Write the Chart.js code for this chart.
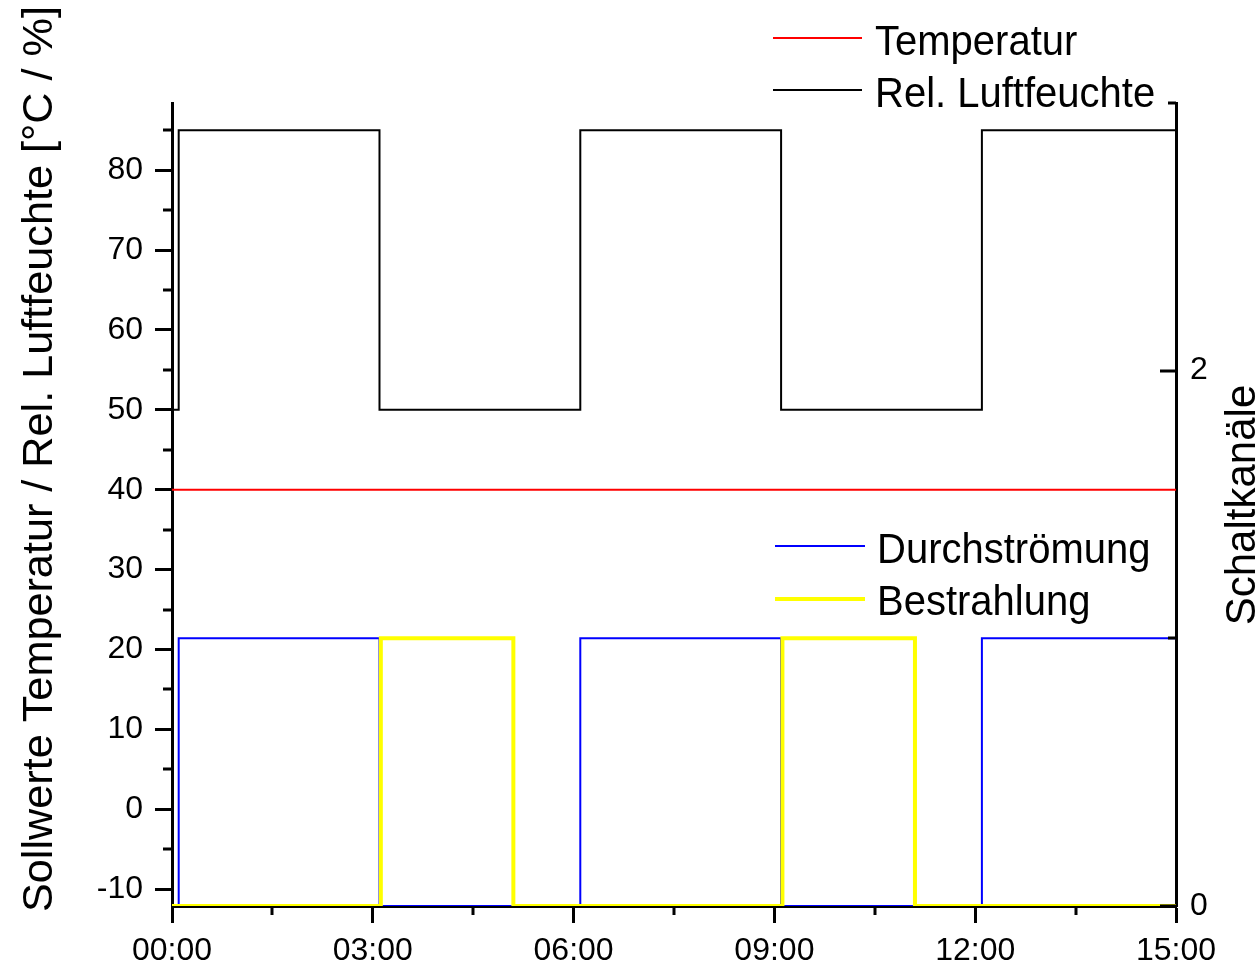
<!DOCTYPE html>
<html>
<head>
<meta charset="utf-8">
<script src="https://cdn.jsdelivr.net/npm/chart.js@4"></script>
<style>
  body { margin: 0; background: #fff; }
  #wrap { width: 1260px; height: 969px; }
</style>
</head>
<body>
<div id="wrap"><canvas id="grafik" width="1260" height="969"></canvas></div>
<script>
// Zeitpunkte (Stunden), an denen sich der Sollwert ändert
const feuchteZeit = [0, 0.1, 3.1, 6.1, 9.1, 12.1, 15];
const feuchteWerte = [50, 85, 50, 85, 50, 85, 85];
const temperaturZeit = [0, 15];
const temperaturWerte = [40, 40];
const durchZeit = [0, 0.1, 3.1, 6.1, 9.1, 12.1, 15];
const durchWerte = [0, 1, 0, 1, 0, 1, 1];
const strahlZeit = [0, 3.12, 5.1, 9.12, 11.1, 15];
const strahlWerte = [0, 1, 0, 1, 0, 0];

const xTicks = [0, 3, 6, 9, 12, 15];
const yTicks = [-10, 0, 10, 20, 30, 40, 50, 60, 70, 80];
const y1Ticks = [0, 2];

const schrift = "'Liberation Sans', Arial, sans-serif";

function punkte(zeit, werte) {
    return zeit.map((x, i) => ({ x: x, y: werte[i] }));
}

function uhrzeit(v) {
    return String(v).padStart(2, "0") + ":00";
}

function schreiben(ctx, s, x, y, groesse, gedreht, laenge) {
    ctx.save();
    ctx.translate(x, y);
    if (gedreht) ctx.rotate(-Math.PI / 2);
    else ctx.scale(1, 1.08);
    ctx.font = groesse + "px " + schrift;
    ctx.fillStyle = "#000";
    if (laenge) {
        let w = ctx.measureText(s).width;
        ctx.scale(laenge / w, 1);
    }
    ctx.textAlign = gedreht ? "center" : "left";
    ctx.textBaseline = "alphabetic";
    ctx.fillText(s, 0, 0);
    ctx.restore();
}

function legendenEintrag(ctx, ds, x1, x2, yLinie, xText, yText) {
    ctx.save();
    ctx.strokeStyle = ds.borderColor;
    ctx.lineWidth = ds.borderWidth;
    ctx.beginPath();
    ctx.moveTo(x1, yLinie);
    ctx.lineTo(x2, yLinie);
    ctx.stroke();
    ctx.restore();
    schreiben(ctx, ds.label, xText, yText, 40, false);
}

const extras = {
    id: "extras",
    afterDraw(chart) {
        const ctx = chart.ctx;
        const { x, y, y1 } = chart.scales;
        const area = chart.chartArea;

        ctx.save();
        ctx.strokeStyle = "#000";
        ctx.lineWidth = 3;
        ctx.beginPath();
        // Zwischenstriche links
        for (let v = -5; v <= 85; v += 10) {
            let py = Math.round(y.getPixelForValue(v));
            ctx.moveTo(area.left - 9, py);
            ctx.lineTo(area.left, py);
        }
        // Zwischenstriche unten
        for (let v = 1.5; v < 15; v += 3) {
            let px = Math.round(x.getPixelForValue(v));
            ctx.moveTo(px, area.bottom);
            ctx.lineTo(px, area.bottom + 9);
        }
        // rechte Achse, Striche nach innen
        [0, 1, 2, 3].forEach(v => {
            let py = Math.round(y1.getPixelForValue(v));
            let len = v % 2 === 0 ? 16 : 8;
            ctx.moveTo(area.right - len, py);
            ctx.lineTo(area.right, py);
        });
        ctx.stroke();
        ctx.restore();

        schreiben(ctx, "Sollwerte Temperatur / Rel. Luftfeuchte [°C / %]", 52, 459, 42, true, 906);
        schreiben(ctx, "Schaltkanäle", 1255, 505, 42, true);

        const ds = chart.data.datasets;
        legendenEintrag(ctx, ds[3], 773, 862, 38, 875, 55);
        legendenEintrag(ctx, ds[2], 773, 862, 90, 875, 107);
        legendenEintrag(ctx, ds[1], 775, 865, 546, 877, 563);
        legendenEintrag(ctx, ds[0], 775, 865, 599, 877, 615);
    }
};

const achse = { color: "#000", width: 3 };

new Chart(document.getElementById("grafik"), {
    type: "line",
    data: {
        datasets: [
            {
                label: "Bestrahlung",
                data: punkte(strahlZeit, strahlWerte),
                yAxisID: "y1",
                borderColor: "#ffff00",
                borderWidth: 4,
                stepped: true
            },
            {
                label: "Durchströmung",
                data: punkte(durchZeit, durchWerte),
                yAxisID: "y1",
                borderColor: "#0000ff",
                borderWidth: 2,
                stepped: true
            },
            {
                label: "Rel. Luftfeuchte",
                data: punkte(feuchteZeit, feuchteWerte),
                yAxisID: "y",
                borderColor: "#000000",
                borderWidth: 2,
                stepped: true
            },
            {
                label: "Temperatur",
                data: punkte(temperaturZeit, temperaturWerte),
                yAxisID: "y",
                borderColor: "#ff0000",
                borderWidth: 2,
                stepped: true
            }
        ]
    },
    options: {
        responsive: false,
        animation: false,
        events: [],
        layout: { padding: { top: 103, left: 0, right: 0, bottom: 0 } },
        elements: { point: { radius: 0 }, line: { tension: 0, fill: false } },
        plugins: { legend: { display: false }, tooltip: { enabled: false } },
        scales: {
            x: {
                type: "linear",
                position: "bottom",
                min: 0,
                max: 15,
                afterBuildTicks: s => { s.ticks = xTicks.map(v => ({ value: v })); },
                afterFit: s => { s.height = 63; },
                border: achse,
                grid: { drawOnChartArea: false, tickLength: 17, tickWidth: 3, tickColor: "#000" },
                ticks: {
                    color: "#000",
                    font: { family: schrift, size: 32 },
                    padding: 9,
                    maxRotation: 0,
                    callback: v => uhrzeit(v)
                }
            },
            y: {
                position: "left",
                min: -12.1,
                max: 88.4,
                afterBuildTicks: s => { s.ticks = yTicks.map(v => ({ value: v })); },
                afterFit: s => { s.width = 172; },
                border: achse,
                grid: { drawOnChartArea: false, tickLength: 17, tickWidth: 3, tickColor: "#000" },
                ticks: { color: "#000", font: { family: schrift, size: 32 }, padding: 12 }
            },
            y1: {
                position: "right",
                min: 0,
                max: 3,
                afterBuildTicks: s => { s.ticks = y1Ticks.map(v => ({ value: v })); },
                afterFit: s => { s.width = 84; },
                border: achse,
                grid: { drawOnChartArea: false, drawTicks: false },
                ticks: { color: "#000", font: { family: schrift, size: 32 }, padding: 14 }
            }
        }
    },
    plugins: [extras]
});
</script>
</body>
</html>
